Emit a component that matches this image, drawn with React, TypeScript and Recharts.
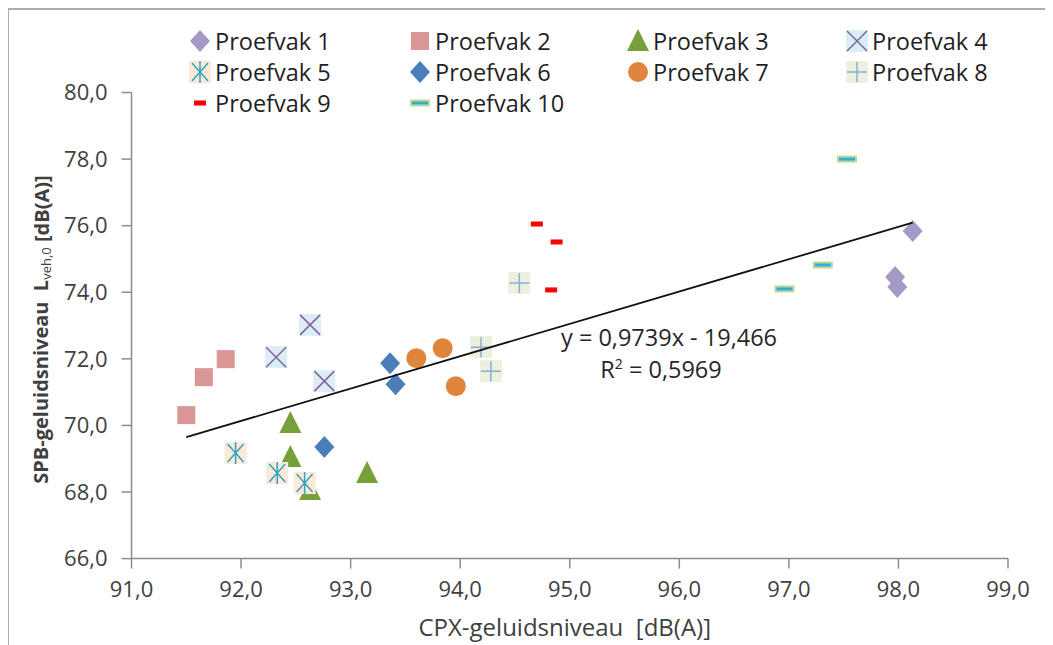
import React from "react";
import { ScatterChart, Scatter, XAxis, YAxis } from "recharts";

// CPX (x) vs SPB (y) noise levels per test section
const xTicks = [91, 92, 93, 94, 95, 96, 97, 98, 99];
const yTicks = [66, 68, 70, 72, 74, 76, 78, 80];

const proefvak1 = [{ x: 98.13, y: 75.84 }, { x: 97.97, y: 74.46 }, { x: 97.99, y: 74.16 }];
const proefvak2 = [{ x: 91.5, y: 70.31 }, { x: 91.66, y: 71.45 }, { x: 91.86, y: 71.99 }];
const proefvak3 = [{ x: 92.45, y: 70.07 }, { x: 92.45, y: 69.05 }, { x: 93.15, y: 68.57 }, { x: 92.63, y: 68.06 }];
const proefvak4 = [{ x: 92.32, y: 72.05 }, { x: 92.63, y: 73.02 }, { x: 92.76, y: 71.33 }];
const proefvak5 = [{ x: 91.95, y: 69.17 }, { x: 92.33, y: 68.57 }, { x: 92.58, y: 68.27 }];
const proefvak6 = [{ x: 93.36, y: 71.87 }, { x: 93.41, y: 71.24 }, { x: 92.76, y: 69.35 }];
const proefvak7 = [{ x: 93.6, y: 72.02 }, { x: 93.84, y: 72.32 }, { x: 93.96, y: 71.18 }];
const proefvak8 = [{ x: 94.19, y: 72.35 }, { x: 94.28, y: 71.63 }, { x: 94.54, y: 74.28 }];
const proefvak9 = [{ x: 94.7, y: 76.05 }, { x: 94.88, y: 75.51 }, { x: 94.83, y: 74.07 }];
const proefvak10 = [{ x: 97.53, y: 78.0 }, { x: 97.31, y: 74.82 }, { x: 96.96, y: 74.1 }];

// linear trend endpoints (min / max x of the data)
const trend = [{ x: 91.5, y: 69.65 }, { x: 98.13, y: 76.09 }];
const trendLabel = "y = 0,9739x - 19,466";
const r2Label = "0,5969";

const FONT = "'Open Sans', sans-serif";
const AXIS = "#8c8c8c";
const TXT = "#404040";

type Kind = "diamond" | "square" | "triangle" | "cross" | "star" | "circle" | "plus" | "dash" | "dash2";
type S = { name: string; data: { x: number; y: number }[]; kind: Kind; fill: string; bg?: string };

const series: S[] = [
  { name: "Proefvak 1", data: proefvak1, kind: "diamond", fill: "#a698c7" },
  { name: "Proefvak 2", data: proefvak2, kind: "square", fill: "#d99694" },
  { name: "Proefvak 3", data: proefvak3, kind: "triangle", fill: "#77a03b" },
  { name: "Proefvak 4", data: proefvak4, kind: "cross", fill: "#8064a2", bg: "#dbeef4" },
  { name: "Proefvak 5", data: proefvak5, kind: "star", fill: "#31a3bd", bg: "#fde9d9" },
  { name: "Proefvak 6", data: proefvak6, kind: "diamond", fill: "#4a7ebb" },
  { name: "Proefvak 7", data: proefvak7, kind: "circle", fill: "#e0853b" },
  { name: "Proefvak 8", data: proefvak8, kind: "plus", fill: "#8eaadb", bg: "#ebf1de" },
  { name: "Proefvak 9", data: proefvak9, kind: "dash", fill: "#ff0000" },
  { name: "Proefvak 10", data: proefvak10, kind: "dash2", fill: "#2fb0d0", bg: "#c3d69b" },
];

function Mark({ kind, fill, bg, cx, cy }: { kind: Kind; fill: string; bg?: string; cx: number; cy: number }) {
  switch (kind) {
    case "diamond":
      return <polygon points={`${cx},${cy - 11} ${cx + 10},${cy} ${cx},${cy + 11} ${cx - 10},${cy}`} fill={fill} />;
    case "square":
      return <rect x={cx - 9} y={cy - 9} width={18} height={18} fill={fill} />;
    case "triangle":
      return <polygon points={`${cx},${cy - 12} ${cx + 11},${cy + 10} ${cx - 11},${cy + 10}`} fill={fill} />;
    case "circle":
      return <circle cx={cx} cy={cy} r={10} fill={fill} />;
    case "cross":
      return (
        <g>
          <rect x={cx - 11} y={cy - 11} width={22} height={22} fill={bg} />
          <path d={`M${cx - 10},${cy - 10}L${cx + 10},${cy + 10}M${cx + 10},${cy - 10}L${cx - 10},${cy + 10}`} stroke={fill} strokeWidth={1.5} />
        </g>
      );
    case "star":
      return (
        <g>
          <rect x={cx - 11} y={cy - 11} width={22} height={22} fill={bg} />
          <path d={`M${cx - 8},${cy - 9}L${cx + 8},${cy + 9}M${cx + 8},${cy - 9}L${cx - 8},${cy + 9}M${cx},${cy - 11}L${cx},${cy + 11}`} stroke={fill} strokeWidth={1.5} />
        </g>
      );
    case "plus":
      return (
        <g>
          <rect x={cx - 11} y={cy - 11} width={22} height={22} fill={bg} />
          <path d={`M${cx - 10},${cy}L${cx + 10},${cy}M${cx},${cy - 10}L${cx},${cy + 10}`} stroke={fill} strokeWidth={1.5} />
        </g>
      );
    case "dash":
      return <rect x={cx - 6} y={cy - 2.5} width={12} height={5} fill={fill} />;
    case "dash2":
      return (
        <g>
          <rect x={cx - 10} y={cy - 3.5} width={20} height={7} fill={bg} />
          <rect x={cx - 8} y={cy - 1.5} width={16} height={3} fill={fill} />
        </g>
      );
  }
  return null;
}

const fmt = (v: number) => v.toFixed(1).replace(".", ",");
const tick = { fontSize: 22, fill: TXT, fontFamily: FONT };

// legend grid: 4 columns, 3 rows
const legCols = [192, 412, 630, 849];
const legRows = [33, 64, 95];

export default function App() {
  return (
    <div style={{ position: "relative", width: 1045, height: 637, fontFamily: FONT }}>
      <div style={{ position: "absolute", left: -1, top: 0, width: 1046, height: 637, borderTop: "2px solid #ababab", borderLeft: "2px solid #ababab" }} />
      <ScatterChart width={1045} height={637} margin={{ top: 84.5, right: 45, left: 0, bottom: 0 }}>
        <XAxis type="number" dataKey="x" domain={[91, 99]} ticks={xTicks} tickFormatter={fmt} height={86.4}
          stroke={AXIS} strokeWidth={1.5} tickSize={10} tickMargin={13} tick={tick} allowDataOverflow
          label={{
            content: ({ viewBox }: any) => (
              <text x={viewBox.x + viewBox.width / 2 - 5} y={628} textAnchor="middle" fontSize={24} fill={TXT} fontFamily={FONT}>
                CPX-geluidsniveau{"\u00a0\u00a0"}[dB(A)]
              </text>
            ),
          }} />
        <YAxis type="number" dataKey="y" domain={[66, 80]} ticks={yTicks} tickFormatter={fmt} width={123.5}
          stroke={AXIS} strokeWidth={1.5} tickSize={10} tickMargin={14} tick={tick} allowDataOverflow
          label={{
            content: ({ viewBox }: any) => {
              const cx = 33;
              const cy = viewBox.y + viewBox.height / 2 + 4;
              return (
                <text x={cx} y={cy} transform={`rotate(-90 ${cx} ${cy})`} textAnchor="middle" dominantBaseline="central"
                  fontSize={20} fontWeight="bold" fill={TXT} fontFamily={FONT}>
                  SPB-geluidsniveau{"\u00a0\u00a0"}L<tspan fontSize={13} dy={5} fontWeight="normal">veh,0</tspan>
                  <tspan dy={-5}> [dB(A)]</tspan>
                </text>
              );
            },
          }} />
        {series.map((s) => (
          <Scatter key={s.name} name={s.name} data={s.data} isAnimationActive={false}
            shape={(p: any) => <Mark kind={s.kind} fill={s.fill} bg={s.bg} cx={p.cx} cy={p.cy} />} />
        ))}
        <Scatter data={trend} isAnimationActive={false} line={{ stroke: "#111", strokeWidth: 1.8 }}
          shape={() => <g />} legendType="none" />
      </ScatterChart>

      {series.map((s, i) => (
        <div key={s.name} style={{ position: "absolute", left: legCols[i % 4] - 13, top: legRows[Math.floor(i / 4)] - 14, display: "flex", alignItems: "center", height: 28 }}>
          <svg width={26} height={28}>
            <Mark kind={s.kind} fill={s.fill} bg={s.bg} cx={13} cy={14} />
          </svg>
          <span style={{ fontSize: 23.5, color: "#1f1f1f", marginLeft: 2, whiteSpace: "nowrap", lineHeight: "28px" }}>{s.name}</span>
        </div>
      ))}

      <div style={{ position: "absolute", left: 553, top: 313, width: 200, textAlign: "center", fontSize: 23.5, color: "#262626", lineHeight: "32px", whiteSpace: "nowrap" }}>
        {trendLabel}
      </div>
      <div style={{ position: "absolute", left: 553, top: 345, width: 200, textAlign: "center", fontSize: 23.5, color: "#262626", lineHeight: "32px", whiteSpace: "nowrap" }}>
        R<sup style={{ fontSize: 14, lineHeight: 0 }}>2</sup> = {r2Label}
      </div>
    </div>
  );
}
